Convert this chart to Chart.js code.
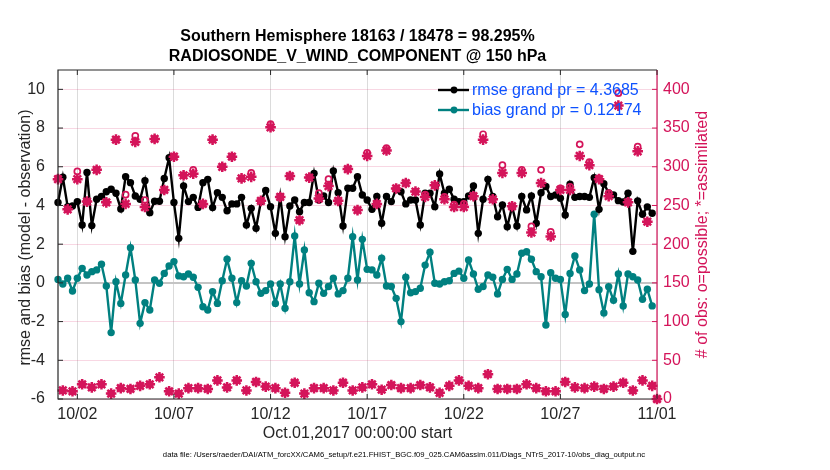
<!DOCTYPE html>
<html>
<head>
<meta charset="utf-8">
<script src="https://cdn.jsdelivr.net/npm/chart.js@4.4.1/dist/chart.umd.min.js"></script>
<style>
  html, body { margin: 0; padding: 0; background: #fff; }
  #wrap { width: 830px; height: 470px; }
</style>
</head>
<body>
<div id="wrap"><canvas id="obsChart" width="830" height="470"></canvas></div>
<script>
// 6-hourly bins, x in days since Oct.01,2017 00:00
const stepDays = 0.25;

const rmse = [
  4.15, 5.46, 3.94, 3.97, 4.20, 2.99, 5.70, 2.96, 4.32, 4.46,
  4.71, 4.84, 4.63, 3.82, 5.49, 5.18, 4.49, 4.32, 5.28, 3.63,
  4.22, 4.22, 5.39, 6.47, 4.15, 2.30, 5.01, 4.20, 4.42, 3.90,
  5.18, 5.35, 3.89, 4.66, 4.42, 3.73, 4.08, 4.08, 4.42, 2.99,
  3.85, 2.82, 4.20, 4.77, 3.94, 2.56, 4.46, 2.39, 3.97, 4.28,
  3.68, 4.15, 4.15, 5.66, 4.28, 4.49, 4.15, 5.78, 4.66, 2.94,
  4.89, 4.89, 5.49, 4.54, 4.28, 3.80, 4.46, 3.08, 4.46, 4.20,
  4.84, 4.71, 4.08, 4.28, 4.28, 2.99, 4.63, 4.63, 3.94, 5.63,
  4.63, 4.84, 4.32, 4.20, 4.20, 4.49, 5.01, 2.56, 4.32, 5.35,
  4.46, 3.42, 4.03, 2.90, 3.94, 2.94, 4.46, 3.77, 4.49, 3.08,
  4.66, 4.98, 4.46, 4.54, 4.37, 3.51, 5.10, 4.42, 4.46, 4.46,
  4.42, 5.43, 3.80, 5.12, 4.65, 4.55, 4.25, 4.18, 4.63, 1.63,
  4.24, 3.55, 3.93, 3.60
];

const bias = [
  0.18, -0.06, 0.24, -0.42, 0.24, 0.75, 0.41, 0.58, 0.67, 0.96,
  -0.16, -2.57, 0.06, -1.06, 0.41, 1.82, 0.15, -2.09, -1.02, -1.40,
  0.15, -0.02, 0.49, 0.87, 1.10, 0.36, 0.32, 0.46, 0.29, -0.23,
  -1.23, -1.40, -0.45, -1.06, 0.11, 1.22, 0.24, -1.02, 0.11, -0.16,
  1.01, 0.06, -0.54, -0.40, -0.06, -1.06, -0.06, -1.31, 0.06, 2.42,
  -0.06, 1.70, -0.51, -0.97, -0.02, -0.54, -0.19, 0.24, -0.57, -0.40,
  0.24, 2.39, 0.15, 2.25, 0.70, 0.67, 0.41, 1.27, -0.16, -0.19,
  -0.80, -2.00, 0.29, -0.51, -0.45, -0.28, 0.92, 1.58, -0.02, -0.06,
  0.06, 0.11, 0.49, 0.61, 0.24, 1.18, 0.46, -0.33, -0.19, 0.41,
  0.29, -0.57, 0.18, 0.70, 0.18, 0.46, 1.53, 1.61, 1.22, 0.58,
  0.32, -2.18, 0.53, 0.24, 0.18, -1.63, 0.49, 1.39, 0.67, -0.40,
  -0.06, 3.55, -0.35, -1.55, -0.20, -0.90, 0.46, -1.19, 0.46, 0.32,
  0.15, -0.85, -0.33, -1.19
];

const obsPossible = [
  285, 11, 245, 10, 294, 19, 255, 15, 296, 19,
  254, 7, 335, 14, 264, 13, 340, 17, 257, 19,
  336, 28, 270, 10, 313, 7, 289, 14, 296, 14,
  252, 13, 335, 24, 300, 15, 313, 24, 285, 11,
  292, 22, 256, 16, 355, 14, 261, 8, 288, 21,
  231, 7, 286, 14, 266, 14, 284, 11, 256, 21,
  297, 11, 244, 15, 318, 19, 252, 12, 324, 18,
  272, 14, 279, 14, 268, 18, 264, 15, 276, 8,
  261, 17, 251, 24, 252, 17, 262, 14, 342, 32,
  258, 13, 302, 13, 249, 13, 296, 19, 223, 14,
  296, 10, 216, 10, 272, 22, 274, 15, 329, 14,
  306, 16, 285, 13, 266, 16, 395, 21, 254, 11,
  326, 24, 229, 17, 0
];

const obsAssim = [
  284, 11, 245, 10, 284, 19, 255, 15, 296, 19,
  254, 7, 335, 14, 252, 13, 332, 17, 248, 19,
  336, 28, 270, 10, 313, 7, 289, 14, 291, 14,
  252, 13, 335, 24, 300, 15, 313, 24, 285, 11,
  287, 22, 256, 16, 351, 14, 261, 8, 288, 21,
  231, 7, 286, 14, 259, 14, 275, 11, 256, 21,
  297, 11, 244, 15, 314, 19, 252, 12, 321, 18,
  272, 14, 279, 14, 268, 18, 261, 15, 276, 8,
  258, 17, 248, 24, 248, 17, 262, 14, 335, 32,
  258, 13, 292, 13, 249, 13, 292, 19, 215, 14,
  279, 10, 210, 10, 270, 22, 270, 15, 314, 14,
  302, 16, 284, 13, 262, 16, 379, 21, 254, 11,
  320, 24, 229, 17, 0
];

const tickDays = [1, 6, 11, 16, 21, 26, 31];
const tickLabels = ['10/02', '10/07', '10/12', '10/17', '10/22', '10/27', '11/01'];
const leftTicks = [-6, -4, -2, 0, 2, 4, 6, 8, 10];
const rightTicks = [0, 50, 100, 150, 200, 250, 300, 350, 400];

const titleLines = ['Southern Hemisphere 18163 / 18478 = 98.295%', 'RADIOSONDE_V_WIND_COMPONENT @ 150 hPa'];
const legendLabels = ['rmse grand pr = 4.3685', 'bias grand pr = 0.12174'];
const xTitle = 'Oct.01,2017 00:00:00 start';
const yTitle = 'rmse and bias (model - observation)';
const y2Title = '# of obs: o=possible; *=assimilated';
const footNote = 'data file: /Users/raeder/DAI/ATM_forcXX/CAM6_setup/f.e21.FHIST_BGC.f09_025.CAM6assim.011/Diags_NTrS_2017-10/obs_diag_output.nc';

const PINK = '#d4145a';
const TEAL = '#008080';
const INK = '#262626';
const FONT = '"Liberation Sans", Arial, Helvetica, sans-serif';

Chart.defaults.font.family = FONT;

const toPts = arr => arr.map((v, i) => ({ x: i * stepDays, y: v }));

const matlabBits = {
  id: 'matlabBits',
  beforeDatasetsDraw(chart) {
    const { ctx, chartArea: a, scales } = chart;
    const y0 = scales.y.getPixelForValue(0);
    ctx.save();
    ctx.strokeStyle = '#c4c4c4';
    ctx.lineWidth = 2;
    ctx.beginPath();
    ctx.moveTo(a.left, y0);
    ctx.lineTo(a.right, y0);
    ctx.stroke();
    ctx.restore();
  },
  afterDraw(chart) {
    const { ctx, chartArea: a, scales } = chart;
    ctx.save();

    // frame
    ctx.lineWidth = 1.2;
    ctx.strokeStyle = INK;
    ctx.beginPath();
    ctx.moveTo(a.right, a.top); ctx.lineTo(a.left, a.top);
    ctx.lineTo(a.left, a.bottom); ctx.lineTo(a.right, a.bottom);
    ctx.stroke();
    ctx.strokeStyle = PINK;
    ctx.beginPath();
    ctx.moveTo(a.right, a.top); ctx.lineTo(a.right, a.bottom);
    ctx.stroke();

    // inward tick marks
    ctx.lineWidth = 1;
    ctx.strokeStyle = INK;
    ctx.beginPath();
    tickDays.forEach(d => {
      const x = scales.x.getPixelForValue(d);
      ctx.moveTo(x, a.bottom); ctx.lineTo(x, a.bottom - 5);
      ctx.moveTo(x, a.top); ctx.lineTo(x, a.top + 5);
    });
    leftTicks.forEach(v => {
      const y = scales.y.getPixelForValue(v);
      ctx.moveTo(a.left, y); ctx.lineTo(a.left + 5, y);
    });
    ctx.stroke();
    ctx.strokeStyle = PINK;
    ctx.beginPath();
    rightTicks.forEach(v => {
      const y = scales.y2.getPixelForValue(v);
      ctx.moveTo(a.right, y); ctx.lineTo(a.right - 5, y);
    });
    ctx.stroke();

    const cx = (a.left + a.right) / 2;
    const cy = (a.top + a.bottom) / 2;

    // titles
    ctx.fillStyle = '#000';
    ctx.textAlign = 'center';
    ctx.textBaseline = 'middle';
    ctx.font = 'bold 16px ' + FONT;
    ctx.fillText(titleLines[0], cx, 37);
    ctx.fillText(titleLines[1], cx, 57);

    // axis titles
    ctx.font = '16px ' + FONT;
    ctx.fillStyle = INK;
    ctx.fillText(xTitle, cx, 434);

    ctx.save();
    ctx.translate(26, cy + 3);
    ctx.rotate(-Math.PI / 2);
    ctx.fillText(yTitle, 0, 0);
    ctx.restore();

    ctx.save();
    ctx.fillStyle = PINK;
    ctx.translate(a.right + 46, cy);
    ctx.rotate(-Math.PI / 2);
    ctx.fillText(y2Title, 0, 0);
    ctx.restore();

    // footnote
    ctx.font = '7.7px ' + FONT;
    ctx.fillStyle = '#000';
    ctx.fillText(footNote, 404, 455);

    // legend
    const lx = a.left + 380;
    const rows = [[legendLabels[0], '#000', a.top + 20], [legendLabels[1], TEAL, a.top + 40]];
    ctx.font = '16px ' + FONT;
    ctx.textAlign = 'left';
    rows.forEach(([label, col, y]) => {
      ctx.strokeStyle = col;
      ctx.lineWidth = 2.4;
      ctx.beginPath();
      ctx.moveTo(lx, y); ctx.lineTo(lx + 31, y);
      ctx.stroke();
      ctx.fillStyle = col;
      ctx.beginPath();
      ctx.arc(lx + 16, y, 3.4, 0, Math.PI * 2);
      ctx.fill();
      ctx.fillStyle = '#0d52ff';
      ctx.fillText(label, lx + 34, y + 1);
    });

    ctx.restore();
  }
};

new Chart(document.getElementById('obsChart'), {
  type: 'line',
  data: {
    datasets: [
      {
        label: 'assimilated',
        data: toPts(obsAssim),
        yAxisID: 'y2',
        showLine: false,
        pointStyle: 'star',
        pointRadius: 5.3,
        pointBorderWidth: 2.5,
        pointBorderColor: PINK,
        pointBackgroundColor: PINK,
        clip: false
      },
      {
        label: 'possible',
        data: toPts(obsPossible),
        yAxisID: 'y2',
        showLine: false,
        pointStyle: 'circle',
        pointRadius: 3,
        pointBorderWidth: 1.7,
        pointBorderColor: PINK,
        pointBackgroundColor: 'rgba(255,255,255,0)',
        clip: false
      },
      {
        label: legendLabels[0],
        data: toPts(rmse),
        yAxisID: 'y',
        borderColor: '#000',
        borderWidth: 2.4,
        pointRadius: 3.7,
        pointBorderWidth: 0,
        pointBackgroundColor: '#000',
        tension: 0,
        clip: false
      },
      {
        label: legendLabels[1],
        data: toPts(bias),
        yAxisID: 'y',
        borderColor: TEAL,
        borderWidth: 2.4,
        pointRadius: 3.7,
        pointBorderWidth: 0,
        pointBackgroundColor: TEAL,
        tension: 0,
        clip: false
      }
    ]
  },
  options: {
    responsive: false,
    animation: false,
    devicePixelRatio: 1,
    layout: { padding: { top: 70, left: 0, right: 0, bottom: 0 } },
    plugins: {
      legend: { display: false },
      title: { display: false },
      tooltip: { enabled: false }
    },
    scales: {
      x: {
        type: 'linear',
        min: 0,
        max: 31,
        afterBuildTicks: s => { s.ticks = tickDays.map(v => ({ value: v })); },
        afterFit: s => { s.height = 71; },
        ticks: {
          autoSkip: false,
          maxRotation: 0,
          padding: 6,
          color: INK,
          font: { size: 16 },
          callback: v => tickLabels[tickDays.indexOf(v)]
        },
        grid: { color: 'rgba(0,0,0,0.14)', drawTicks: false },
        border: { display: false }
      },
      y: {
        position: 'left',
        min: -6,
        max: 11,
        afterBuildTicks: s => { s.ticks = leftTicks.map(v => ({ value: v })); },
        afterFit: s => { s.width = 58; },
        ticks: { padding: 5, color: INK, font: { size: 16 } },
        grid: { display: false },
        border: { display: false }
      },
      y2: {
        position: 'right',
        min: 0,
        max: 425,
        afterBuildTicks: s => { s.ticks = rightTicks.map(v => ({ value: v })); },
        afterFit: s => { s.width = 173; },
        ticks: { padding: 6, color: PINK, font: { size: 16 } },
        grid: { color: 'rgba(212,20,90,0.17)', drawTicks: false },
        border: { display: false }
      }
    }
  },
  plugins: [matlabBits]
});
</script>
</body>
</html>
